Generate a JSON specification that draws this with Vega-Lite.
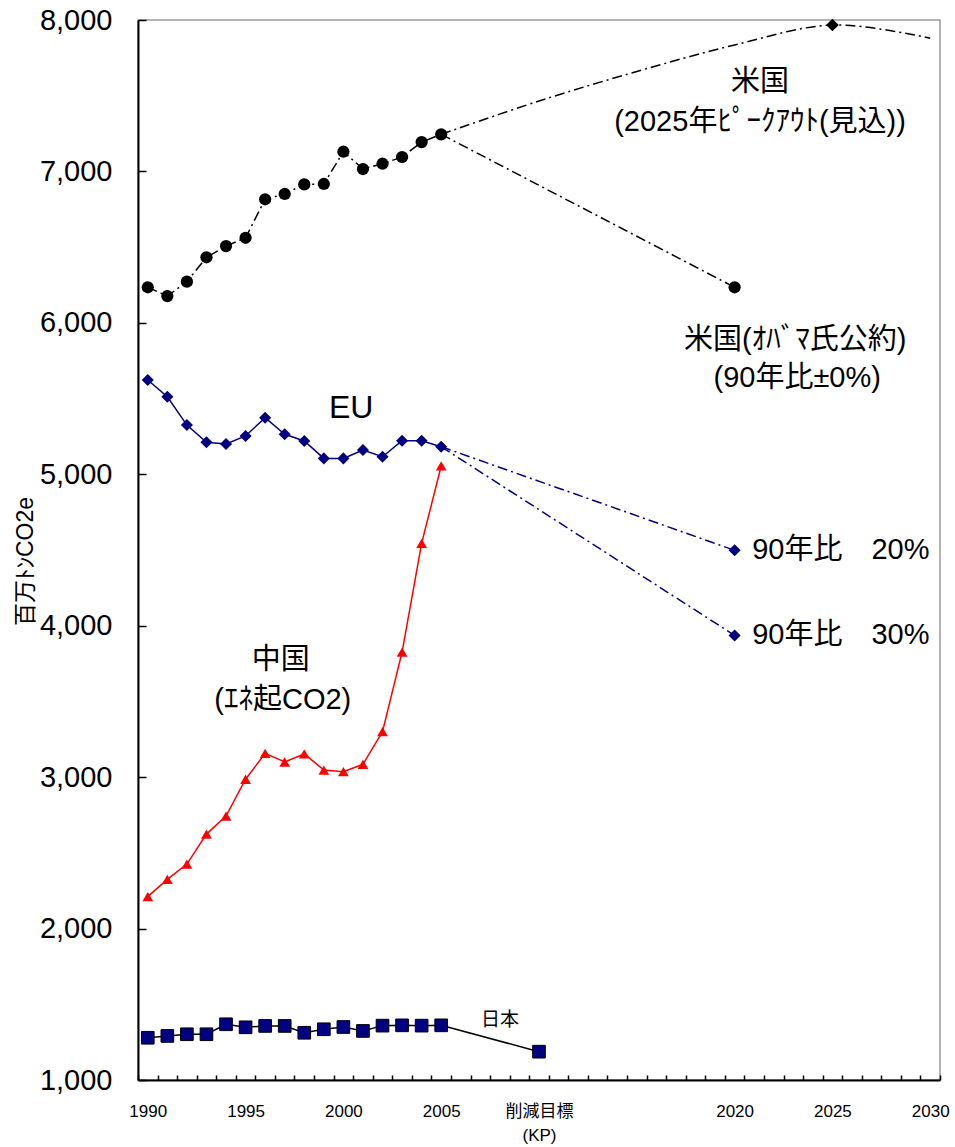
{
  "$schema": "https://vega.github.io/schema/vega-lite/v6.json",
  "width": 802,
  "height": 1060,
  "autosize": "none",
  "padding": {"left": 138, "top": 20, "right": 15, "bottom": 67},
  "background": "white",
  "config": {
    "view": {"stroke": "#9a9a9a", "strokeWidth": 1.5},
    "font": "Liberation Sans, Noto Sans CJK JP"
  },
  "datasets": {
    "hist": [
      {"series": "US", "year": 1990, "value": 6235}, {"series": "US", "year": 1991, "value": 6177},
      {"series": "US", "year": 1992, "value": 6272}, {"series": "US", "year": 1993, "value": 6433},
      {"series": "US", "year": 1994, "value": 6507}, {"series": "US", "year": 1995, "value": 6562},
      {"series": "US", "year": 1996, "value": 6816}, {"series": "US", "year": 1997, "value": 6851},
      {"series": "US", "year": 1998, "value": 6915}, {"series": "US", "year": 1999, "value": 6917},
      {"series": "US", "year": 2000, "value": 7130}, {"series": "US", "year": 2001, "value": 7016},
      {"series": "US", "year": 2002, "value": 7051}, {"series": "US", "year": 2003, "value": 7095},
      {"series": "US", "year": 2004, "value": 7194}, {"series": "US", "year": 2005, "value": 7245},
      {"series": "EU", "year": 1990, "value": 5623}, {"series": "EU", "year": 1991, "value": 5512},
      {"series": "EU", "year": 1992, "value": 5325}, {"series": "EU", "year": 1993, "value": 5211},
      {"series": "EU", "year": 1994, "value": 5200}, {"series": "EU", "year": 1995, "value": 5253},
      {"series": "EU", "year": 1996, "value": 5374}, {"series": "EU", "year": 1997, "value": 5264},
      {"series": "EU", "year": 1998, "value": 5220}, {"series": "EU", "year": 1999, "value": 5105},
      {"series": "EU", "year": 2000, "value": 5105}, {"series": "EU", "year": 2001, "value": 5160},
      {"series": "EU", "year": 2002, "value": 5116}, {"series": "EU", "year": 2003, "value": 5222},
      {"series": "EU", "year": 2004, "value": 5222}, {"series": "EU", "year": 2005, "value": 5182},
      {"series": "CN", "year": 1990, "value": 2211}, {"series": "CN", "year": 1991, "value": 2325},
      {"series": "CN", "year": 1992, "value": 2426}, {"series": "CN", "year": 1993, "value": 2624},
      {"series": "CN", "year": 1994, "value": 2743}, {"series": "CN", "year": 1995, "value": 2986},
      {"series": "CN", "year": 1996, "value": 3157}, {"series": "CN", "year": 1997, "value": 3100},
      {"series": "CN", "year": 1998, "value": 3153}, {"series": "CN", "year": 1999, "value": 3047},
      {"series": "CN", "year": 2000, "value": 3036}, {"series": "CN", "year": 2001, "value": 3085},
      {"series": "CN", "year": 2002, "value": 3300}, {"series": "CN", "year": 2003, "value": 3825},
      {"series": "CN", "year": 2004, "value": 4544}, {"series": "CN", "year": 2005, "value": 5055},
      {"series": "JP", "year": 1990, "value": 1279}, {"series": "JP", "year": 1991, "value": 1291},
      {"series": "JP", "year": 1992, "value": 1302}, {"series": "JP", "year": 1993, "value": 1302},
      {"series": "JP", "year": 1994, "value": 1368}, {"series": "JP", "year": 1995, "value": 1348},
      {"series": "JP", "year": 1996, "value": 1357}, {"series": "JP", "year": 1997, "value": 1357},
      {"series": "JP", "year": 1998, "value": 1312}, {"series": "JP", "year": 1999, "value": 1335},
      {"series": "JP", "year": 2000, "value": 1350}, {"series": "JP", "year": 2001, "value": 1324},
      {"series": "JP", "year": 2002, "value": 1359}, {"series": "JP", "year": 2003, "value": 1361},
      {"series": "JP", "year": 2004, "value": 1359}, {"series": "JP", "year": 2005, "value": 1361},
      {"series": "JP", "year": 2010, "value": 1187}
    ],
    "proj": [
      {"scenario": "US_obama", "year": 2005, "value": 7245},
      {"scenario": "US_obama", "year": 2020, "value": 6235},
      {"scenario": "US_peak", "year": 2005, "value": 7245},
      {"scenario": "US_peak", "year": 2010, "value": 7465},
      {"scenario": "US_peak", "year": 2015, "value": 7660},
      {"scenario": "US_peak", "year": 2020, "value": 7835},
      {"scenario": "US_peak", "year": 2025, "value": 7967},
      {"scenario": "US_peak", "year": 2030, "value": 7880},
      {"scenario": "EU20", "year": 2005, "value": 5182},
      {"scenario": "EU20", "year": 2020, "value": 4498},
      {"scenario": "EU30", "year": 2005, "value": 5182},
      {"scenario": "EU30", "year": 2020, "value": 3936}
    ],
    "labels": [
      {"text": "米国", "year": 2021.3, "value": 7591, "kind": "c"},
      {"text": "(2025年ﾋﾟｰｸｱｳﾄ(見込))", "year": 2021.3, "value": 7326, "kind": "c"},
      {"text": "米国(ｵﾊﾞﾏ氏公約)", "year": 2023.1, "value": 5887, "kind": "c"},
      {"text": "(90年比±0%)", "year": 2023.2, "value": 5636, "kind": "c"},
      {"text": "EU", "year": 2000.4, "value": 5438, "kind": "eu"},
      {"text": "中国", "year": 1996.8, "value": 3774, "kind": "c"},
      {"text": "(ｴﾈ起CO2)", "year": 1996.9, "value": 3509, "kind": "c"},
      {"text": "90年比　20%", "year": 2020.9, "value": 4498, "kind": "t"},
      {"text": "90年比　30%", "year": 2020.9, "value": 3936, "kind": "t"},
      {"text": "日本", "year": 2008.0, "value": 1396, "kind": "s"}
    ]
  },
  "encoding": {
    "x": {
      "field": "year", "type": "quantitative",
      "scale": {"domain": [1989.5, 2030.5], "nice": false, "zero": false},
      "axis": {
        "title": null,
        "values": [1989.5, 1990.5, 1991.5, 1992.5, 1993.5, 1994.5, 1995.5, 1996.5, 1997.5, 1998.5, 1999.5, 2000.5, 2001.5, 2002.5, 2003.5, 2004.5, 2005.5, 2006.5, 2007.5, 2008.5, 2009.5, 2010.5, 2011.5, 2012.5, 2013.5, 2014.5, 2015.5, 2016.5, 2017.5, 2018.5, 2019.5, 2020.5, 2021.5, 2022.5, 2023.5, 2024.5, 2025.5, 2026.5, 2027.5, 2028.5, 2029.5, 2030.5],
        "labelExpr": "indexof([1990,1995,2000,2005,2020,2025,2030], datum.value + 0.5) >= 0 ? '' + (datum.value + 0.5) : ((datum.value + 0.5) == 2010 ? ['削減目標', '(KP)'] : '')",
        "labelOffset": 9.78,
        "tickSize": -5,
        "tickColor": "black",
        "tickWidth": 1.5,
        "domainColor": "black",
        "domainWidth": 2,
        "labelPadding": 28,
        "labelFontSize": 17,
        "labelColor": "black",
        "labelFlush": false,
        "labelOverlap": false,
        "labelBound": false,
        "labelBaseline": "top",
        "labelLineHeight": 24,
        "grid": false,
        "zindex": 1
      }
    },
    "y": {
      "field": "value", "type": "quantitative",
      "scale": {"domain": [1000, 8000], "nice": false, "zero": false},
      "axis": {
        "values": [1000, 2000, 3000, 4000, 5000, 6000, 7000, 8000],
        "format": ",d",
        "title": "百万ﾄﾝCO2e",
        "titleFontSize": 23,
        "titleFontWeight": "normal",
        "titleColor": "black",
        "titleX": -113,
        "titleY": 541,
        "titleAngle": -90,
        "titleAlign": "center",
        "titleBaseline": "middle",
        "tickSize": -8,
        "tickColor": "black",
        "tickWidth": 1.5,
        "domainColor": "black",
        "domainWidth": 2,
        "labelPadding": 34,
        "labelFontSize": 29,
        "labelColor": "black",
        "labelFlush": false,
        "labelOverlap": false,
        "grid": false,
        "zindex": 1
      }
    }
  },
  "layer": [
    {
      "data": {"name": "proj"},
      "transform": [{"filter": "datum.scenario == 'US_peak'"}],
      "mark": {"type": "line", "color": "black", "strokeWidth": 1.5, "strokeDash": [10, 4, 2, 4], "interpolate": "cardinal"}
    },
    {
      "data": {"name": "proj"},
      "transform": [{"filter": "datum.scenario == 'US_obama'"}],
      "mark": {"type": "line", "color": "black", "strokeWidth": 1.5, "strokeDash": [10, 4, 2, 4]}
    },
    {
      "data": {"name": "proj"},
      "transform": [{"filter": "datum.scenario == 'EU20' || datum.scenario == 'EU30'"}],
      "mark": {"type": "line", "color": "#000080", "strokeWidth": 1.5, "strokeDash": [10, 4, 2, 4]},
      "encoding": {"detail": {"field": "scenario"}}
    },
    {
      "data": {"name": "hist"},
      "transform": [{"filter": "datum.series == 'US'"}],
      "mark": {"type": "line", "color": "black", "strokeWidth": 1.5, "strokeDash": [10, 4, 2, 4]}
    },
    {
      "data": {"name": "hist"},
      "transform": [{"filter": "datum.series == 'EU'"}],
      "mark": {"type": "line", "color": "#000080", "strokeWidth": 1.5}
    },
    {
      "data": {"name": "hist"},
      "transform": [{"filter": "datum.series == 'CN'"}],
      "mark": {"type": "line", "color": "#ff0000", "strokeWidth": 1.5}
    },
    {
      "data": {"name": "hist"},
      "transform": [{"filter": "datum.series == 'JP'"}],
      "mark": {"type": "line", "color": "black", "strokeWidth": 1.5}
    },
    {
      "data": {"name": "hist"},
      "transform": [{"filter": "datum.series == 'US'"}],
      "mark": {"type": "point", "shape": "circle", "filled": true, "color": "black", "size": 150, "opacity": 1}
    },
    {
      "data": {"name": "proj"},
      "transform": [{"filter": "datum.scenario == 'US_obama' && datum.year == 2020"}],
      "mark": {"type": "point", "shape": "circle", "filled": true, "color": "black", "size": 150, "opacity": 1}
    },
    {
      "data": {"name": "proj"},
      "transform": [{"filter": "datum.scenario == 'US_peak' && datum.year == 2025"}],
      "mark": {"type": "point", "shape": "diamond", "filled": true, "color": "black", "size": 160, "opacity": 1}
    },
    {
      "data": {"name": "hist"},
      "transform": [{"filter": "datum.series == 'EU'"}],
      "mark": {"type": "point", "shape": "diamond", "filled": true, "color": "#000080", "size": 145, "opacity": 1}
    },
    {
      "data": {"name": "proj"},
      "transform": [{"filter": "(datum.scenario == 'EU20' || datum.scenario == 'EU30') && datum.year == 2020"}],
      "mark": {"type": "point", "shape": "diamond", "filled": true, "color": "#000080", "size": 145, "opacity": 1}
    },
    {
      "data": {"name": "hist"},
      "transform": [{"filter": "datum.series == 'CN'"}],
      "mark": {"type": "point", "shape": "triangle-up", "filled": true, "color": "#ff0000", "size": 115, "opacity": 1}
    },
    {
      "data": {"name": "hist"},
      "transform": [{"filter": "datum.series == 'JP'"}],
      "mark": {"type": "point", "shape": "square", "filled": true, "fill": "#000080", "stroke": "black", "strokeWidth": 1, "size": 160, "opacity": 1}
    },
    {
      "data": {"name": "labels"},
      "transform": [{"filter": "datum.kind == 'c'"}],
      "mark": {"type": "text", "fontSize": 29, "color": "black", "align": "center", "baseline": "middle"},
      "encoding": {"text": {"field": "text"}}
    },
    {
      "data": {"name": "labels"},
      "transform": [{"filter": "datum.kind == 'eu'"}],
      "mark": {"type": "text", "fontSize": 32, "color": "black", "align": "center", "baseline": "middle"},
      "encoding": {"text": {"field": "text"}}
    },
    {
      "data": {"name": "labels"},
      "transform": [{"filter": "datum.kind == 't'"}],
      "mark": {"type": "text", "fontSize": 29, "color": "black", "align": "left", "baseline": "middle"},
      "encoding": {"text": {"field": "text"}}
    },
    {
      "data": {"name": "labels"},
      "transform": [{"filter": "datum.kind == 's'"}],
      "mark": {"type": "text", "fontSize": 19, "color": "black", "align": "center", "baseline": "middle"},
      "encoding": {"text": {"field": "text"}}
    }
  ]
}
